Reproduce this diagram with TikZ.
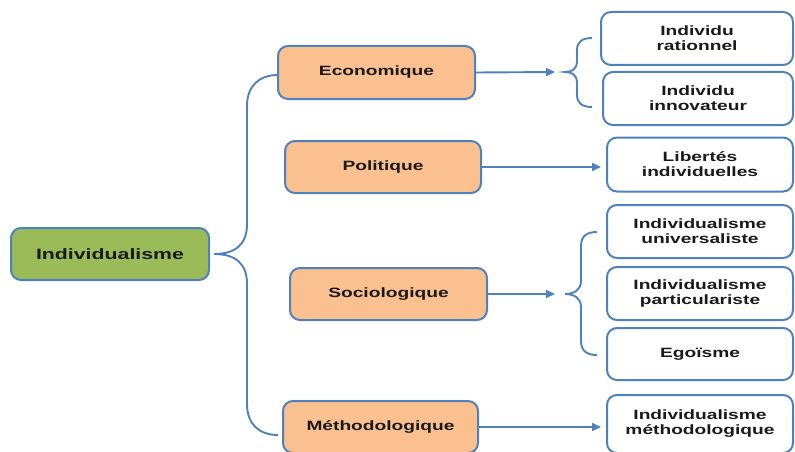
\documentclass[tikz,border=0pt]{standalone}
\usepackage{fontspec}
\setmainfont{Liberation Sans}[FakeStretch=1.42]
\usetikzlibrary{arrows.meta}
\definecolor{bordblue}{HTML}{4F81BD}
\definecolor{greenfill}{HTML}{9BBB59}
\definecolor{orangefill}{HTML}{FAC090}
\definecolor{txt}{HTML}{1A1A1A}
\tikzset{
  box/.style={draw=bordblue, line width=2pt, rounded corners=10pt, align=center,
    text=txt, font=\bfseries\fontsize{13.5}{15}\selectfont, inner sep=0pt},
  rootbox/.style={box, fill=greenfill, minimum width=198pt, minimum height=52pt,
    font=\bfseries\fontsize{15}{18}\selectfont},
  catbox/.style={box, fill=orangefill, minimum width=196pt, minimum height=52pt},
  leafbox/.style={box, fill=white, minimum height=52pt},
  link/.style={draw=bordblue, line width=1.9pt},
  arr/.style={link, -{Triangle[length=9pt,width=8pt]}}
}
\begin{document}
\begin{tikzpicture}[x=1pt,y=-1pt]
\useasboundingbox (0,0) rectangle (795,452);
\clip (0,0) rectangle (795,452);
\fill[white] (0,0) rectangle (795,452);

% root
\node[rootbox] (ind) at (110,254) {Individualisme};

% categories
\node[catbox, minimum width=197pt, minimum height=53pt] (eco) at (376.5,72.5) {Economique};
\node[catbox] (pol) at (383,167) {Politique};
\node[catbox, minimum width=197pt] (soc) at (388.5,294) {Sociologique};
\node[catbox, minimum width=195pt] (met) at (380.5,427) {Méthodologique};

% leaves
\node[leafbox, minimum width=192pt, minimum height=53pt] (r1) at (697,38.5) {Individu\\rationnel};
\node[leafbox, minimum width=190pt, minimum height=53pt] (r2) at (698,98.5) {Individu\\innovateur};
\node[leafbox, minimum width=186pt, minimum height=54pt] (r3) at (700,164.5) {Libertés\\individuelles};
\node[leafbox, minimum width=186pt, minimum height=53pt] (r4) at (700,231.5) {Individualisme\\universaliste};
\node[leafbox, minimum width=186pt, minimum height=53pt] (r5) at (700,293.5) {Individualisme\\particulariste};
\node[leafbox, minimum width=186pt, minimum height=52pt] (r6) at (700,354) {Egoïsme};
\node[leafbox, minimum width=186pt, minimum height=58pt] (r7) at (700,424) {Individualisme\\méthodologique};

% big brace
\coordinate (tip) at ([xshift=4pt]ind.east);
\coordinate (btop) at (278,75);
\coordinate (bbot) at (278,435);
\draw[link] (btop) .. controls (259,75) and (247,86) .. (247,106)
  -- (247,224) .. controls (247,244) and (236,254) .. (tip)
  .. controls (236,254) and (247,264) .. (247,284)
  -- (247,404) .. controls (247,424) and (259,435) .. (bbot);

% arrows
\coordinate (ea) at (555,72);
\coordinate (sa) at (555,294);
\draw[arr] (eco.east) -- (ea);
\draw[arr] (pol.east) -- ([xshift=-5pt]r3.west |- pol.east);
\draw[arr] (soc.east) -- (sa);
\draw[arr] (met.east) -- ([xshift=-5pt]r7.west |- met.east);

% small brace (economique)
\coordinate (etip) at (565,72);
\draw[link] (592,38) .. controls (582,38) and (577,42) .. (577,50)
  -- (577,61) .. controls (577,69) and (572,72) .. (etip)
  .. controls (572,72) and (577,75) .. (577,83)
  -- (577,95) .. controls (577,103) and (582,107) .. (592,107);

% small brace (sociologique)
\coordinate (stip) at (565,294);
\draw[link] (597,232) .. controls (587,232) and (581,236) .. (581,246)
  -- (581,281) .. controls (581,290) and (574,294) .. (stip)
  .. controls (574,294) and (581,298) .. (581,307)
  -- (581,341) .. controls (581,351) and (587,355) .. (597,355);
\end{tikzpicture}
\end{document}
